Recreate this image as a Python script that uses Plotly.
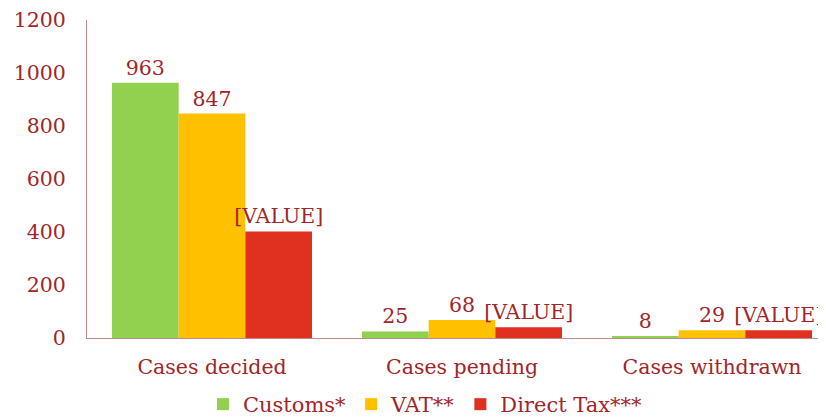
import plotly.graph_objects as go

categories = ["Cases decided", "Cases pending", "Cases withdrawn"]
customs = [963, 25, 8]
vat = [847, 68, 29]
direct_tax = [402, 41, 29]
customs_labels = ["963", "25", "8"]
vat_labels = ["847", "68", "29"]
direct_labels = ["[VALUE]", "[VALUE]", "[VALUE]"]
y_ticks = [0, 200, 400, 600, 800, 1000, 1200]

TXT = "#A0262A"
FONT = "DejaVu Serif"

fig = go.Figure()
for name, vals, labels, color in [
    ("Customs*", customs, customs_labels, "#92D050"),
    ("VAT**", vat, vat_labels, "#FFC000"),
    ("Direct Tax***", direct_tax, direct_labels, "#E03020"),
]:
    fig.add_trace(go.Bar(
        name=name, x=categories, y=vals, text=labels,
        textposition="outside", constraintext="none",
        textfont=dict(family=FONT, size=20.5, color=TXT),
        marker=dict(color=color, line=dict(width=0)),
        cliponaxis=False, hoverinfo="skip",
    ))

fig.update_layout(
    width=826, height=417,
    margin=dict(l=79, r=8, t=12, b=87, autoexpand=False),
    barmode="group", bargap=0.2, bargroupgap=0,
    plot_bgcolor="white", paper_bgcolor="white",
    font=dict(family=FONT, color=TXT, size=20),
    showlegend=True,
    legend=dict(orientation="h", x=0.458, xanchor="center", yref="container", y=0.0,
                yanchor="bottom", font=dict(family=FONT, size=21, color=TXT),
                traceorder="normal", itemwidth=30),
)
fig.update_xaxes(range=[-0.5, 2.456], showline=True, linecolor="#C08A8A", linewidth=1,
                 showgrid=False, ticks="", automargin=False, ticklabelstandoff=10,
                 tickfont=dict(family=FONT, size=20.5, color=TXT))
fig.update_yaxes(range=[0, 1200], tickvals=y_ticks, showline=True, linecolor="#C08A8A",
                 linewidth=1, showgrid=False, zeroline=False, ticks="", automargin=False,
                 tickfont=dict(family=FONT, size=20.5, color=TXT), ticklabelstandoff=16)

fig.write_html("out.html")
